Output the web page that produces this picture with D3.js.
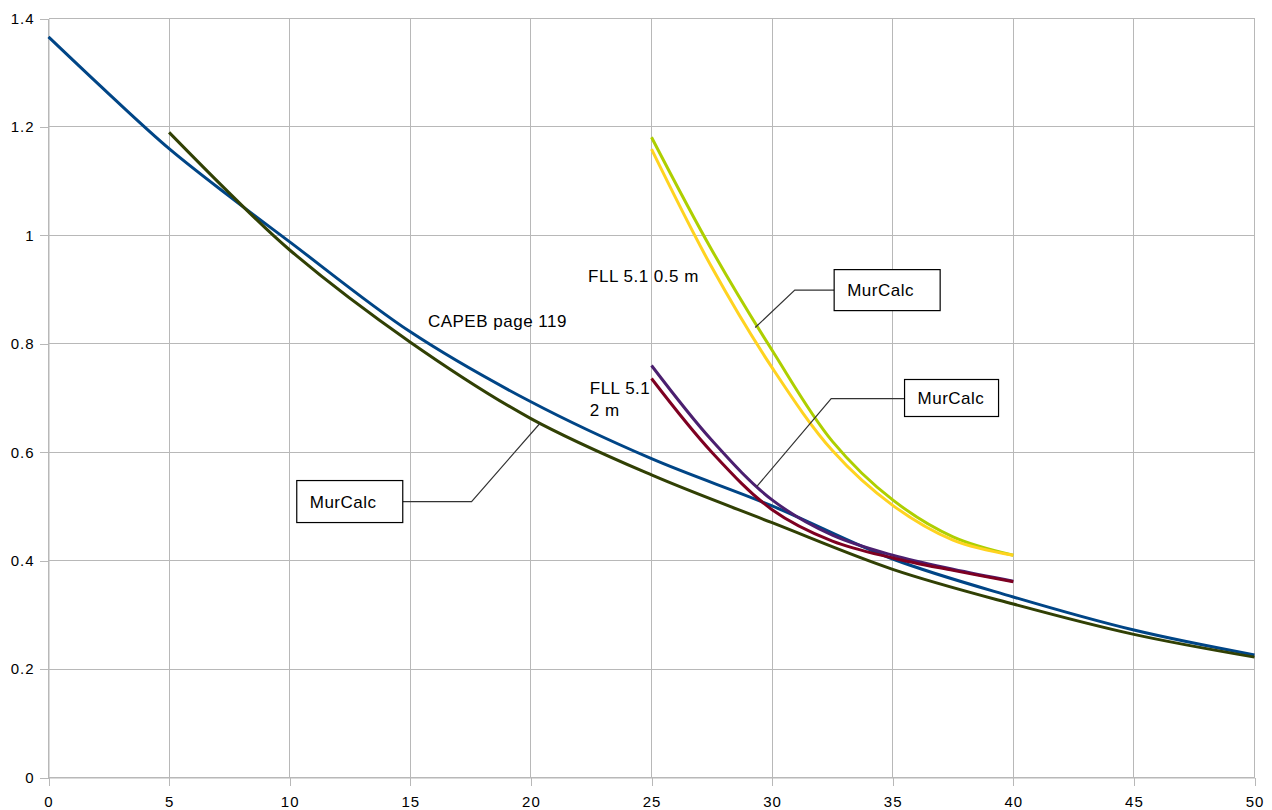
<!DOCTYPE html>
<html><head><meta charset="utf-8">
<script src="https://cdn.jsdelivr.net/npm/d3@7"></script>
<style>
body{margin:0;background:#fff}
text{font-family:"Liberation Sans",Arial,sans-serif;fill:#000}
</style>
</head><body><svg id="c" width="1272" height="810"></svg>
<script>
// ---- data ----
const xTicks = [0,5,10,15,20,25,30,35,40,45,50];
const yTicks = [0,0.2,0.4,0.6,0.8,1,1.2,1.4];
const yTickLabels = ["0","0.2","0.4","0.6","0.8","1","1.2","1.4"];

const capebX = [0,2.5,5,7.5,10,15,20,25,30,35,40,45,50];
const capebY = [1.366,1.261,1.160,1.072,0.988,0.822,0.693,0.588,0.501,0.403,0.333,0.272,0.226];
const murcalcX = [5,7.5,10,15,20,25,30,35,40,45,50];
const murcalcY = [1.190,1.078,0.973,0.803,0.662,0.558,0.470,0.384,0.320,0.264,0.222];
const fllX = [25,27.5,30,32.5,35,37.5,40];
const mur05Y = [1.181,0.973,0.788,0.620,0.512,0.444,0.410];
const fll05Y = [1.159,0.941,0.756,0.603,0.502,0.438,0.410];
const mur2Y  = [0.760,0.622,0.512,0.447,0.410,0.384,0.362];
const fll2Y  = [0.736,0.600,0.494,0.436,0.405,0.382,0.361];

const seriesNames  = ["CAPEB page 119","MurCalc","MurCalc 0.5 m","FLL 5.1 0.5 m","MurCalc 2 m","FLL 5.1 2 m"];
const seriesX      = [capebX, murcalcX, fllX, fllX, fllX, fllX];
const seriesY      = [capebY, murcalcY, mur05Y, fll05Y, mur2Y, fll2Y];
const seriesColors = ["#004586","#314004","#aecf00","#ffd320","#4b1f6f","#7e0021"];

// text labels (data coords of baseline start)
const labelText = [["CAPEB page 119"],["FLL 5.1 0.5 m"],["FLL 5.1","2 m"]];
const labelAt   = [[15.73,0.831],[22.37,0.914],[22.44,0.707]];

// callouts: anchor on curve, elbow, box centre (data coords)
const calloutText   = ["MurCalc","MurCalc","MurCalc"];
const calloutAnchor = [[20.37,0.653],[29.30,0.830],[29.37,0.537]];
const calloutElbow  = [[17.54,0.509],[30.94,0.899],[32.45,0.699]];
const calloutBox    = [[12.49,0.509],[34.77,0.899],[37.44,0.700]];
const calloutSize   = [[106,42],[106,41],[94,37]];

// ---- chart ----
const svg = d3.select("#c");
const x = d3.scaleLinear().domain([0,50]).range([48.5,1254.5]);
const y = d3.scaleLinear().domain([0,1.4]).range([777.5,18.5]);
const gridColor = "#b8b8b8";

// grid
const g = svg.append("g").attr("shape-rendering","crispEdges");
g.selectAll("line.v").data(xTicks).join("line")
  .attr("x1",d=>x(d)).attr("x2",d=>x(d)).attr("y1",y(1.4)).attr("y2",y(0))
  .attr("stroke",gridColor);
g.selectAll("line.h").data(yTicks).join("line")
  .attr("y1",d=>y(d)).attr("y2",d=>y(d)).attr("x1",x(0)).attr("x2",x(50))
  .attr("stroke",gridColor);

// axes
const ax = svg.append("g").attr("transform",`translate(0,${y(0)})`)
  .call(d3.axisBottom(x).tickValues(xTicks).tickSize(8).tickSizeOuter(0).tickPadding(11).tickFormat(d3.format("d")));
const ay = svg.append("g").attr("transform",`translate(${x(0)},0)`)
  .call(d3.axisLeft(y).tickValues(yTicks).tickSize(9).tickSizeOuter(0).tickPadding(5).tickFormat((d,i)=>yTickLabels[i]));
[ax,ay].forEach(a=>{
  a.selectAll("path.domain").attr("stroke",gridColor);
  a.selectAll(".tick line").attr("stroke",gridColor).attr("shape-rendering","crispEdges");
  a.selectAll("text").style("font-family",'"Liberation Sans",Arial,sans-serif')
    .style("font-size","15px").style("letter-spacing","1px").attr("fill","#000");
});

// curves
const line = d3.line().x(d=>x(d[0])).y(d=>y(d[1])).curve(d3.curveCatmullRom.alpha(0.5));
seriesNames.forEach((n,i)=>{
  const pts = seriesX[i].map((v,j)=>[v,seriesY[i][j]]);
  svg.append("path").datum(pts).attr("d",line)
    .attr("fill","none").attr("stroke",seriesColors[i]).attr("stroke-width",3)
    .attr("stroke-linejoin","round");
});

// text labels
labelText.forEach((lines,i)=>{
  const t = svg.append("text").attr("x",x(labelAt[i][0])).attr("y",y(labelAt[i][1]))
    .style("font-size","17px").style("letter-spacing","0.5px");
  lines.forEach((s,k)=>t.append("tspan").attr("x",x(labelAt[i][0])).attr("dy",k===0?0:21.7).text(s));
});

// callouts
calloutText.forEach((s,i)=>{
  const [bw,bh] = calloutSize[i];
  const bx = x(calloutBox[i][0]), by = y(calloutBox[i][1]);
  const ex = x(calloutElbow[i][0]), ey = y(calloutElbow[i][1]);
  const axp = x(calloutAnchor[i][0]), ayp = y(calloutAnchor[i][1]);
  const edge = ex > bx ? bx + bw/2 : bx - bw/2;
  svg.append("path").attr("d",`M${edge},${ey}L${ex},${ey}L${axp},${ayp}`)
    .attr("fill","none").attr("stroke","#333").attr("stroke-width",1.2);
  svg.append("rect").attr("x",bx-bw/2).attr("y",by-bh/2).attr("width",bw).attr("height",bh)
    .attr("fill","#fff").attr("stroke","#000").attr("stroke-width",1.2);
  svg.append("text").attr("x",bx-bw/2+13).attr("y",by+6)
    .style("font-size","17px").style("letter-spacing","0.5px").text(s);
});
</script>
</body></html>
